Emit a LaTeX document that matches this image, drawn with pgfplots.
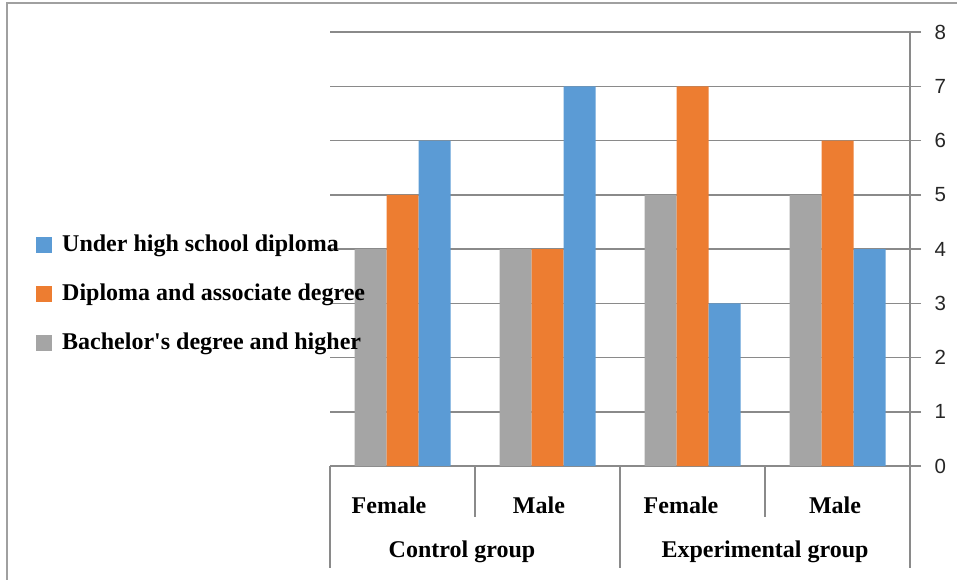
\documentclass[border=0pt]{standalone}
\usepackage{fontspec}
\setmainfont{Liberation Serif}
\newfontfamily\arialfont{Liberation Sans}
\usepackage{pgfplots}
\pgfplotsset{compat=1.18}

\definecolor{barGray}{HTML}{A5A5A5}
\definecolor{barOrange}{HTML}{ED7D31}
\definecolor{barBlue}{HTML}{5B9BD5}
\definecolor{gridGray}{HTML}{8A8A8A}
\definecolor{frameGray}{HTML}{A0A0A0}

\begin{document}
\begin{tikzpicture}[x=1pt,y=1pt]
% outer chart frame
\draw[frameGray, line width=2pt] (7,-5) -- (7,576) -- (962,576);
\begin{axis}[
  at={(330pt,113pt)}, anchor=south west,
  scale only axis, width=580pt, height=434pt,
  xmin=-0.5, xmax=3.5, ymin=0, ymax=8,
  ybar, bar width=32pt,
  axis x line*=bottom, axis y line*=right,
  axis line style={gridGray, line width=1.5pt},
  xtick=\empty,
  ytick={0,1,...,8},
  tick align=outside, major tick length=11pt,
  tick style={gridGray, line width=1.5pt},
  ymajorgrids, grid style={gridGray, line width=1.5pt},
  /pgf/number format/assume math mode=true,
  yticklabel style={font=\arialfont\fontsize{20.5}{20.5}\selectfont, text=black!85, anchor=west, xshift=10pt},
  clip=false,
  reverse legend,
  legend cell align=left,
  legend image code/.code={\fill[#1, draw=none] (0pt,-8pt) rectangle (16pt,8pt);},
  legend style={at={(-0.5069,0.396)}, anchor=west, draw=none, fill=none, inner sep=0pt,
    row sep=27pt,
    font=\bfseries\fontsize{24}{26}\selectfont,
    nodes={inner sep=0pt, text height=17pt, text depth=5pt},
    /tikz/every odd column/.append style={column sep=10pt}},
]
% Bachelor's degree and higher
\addplot[fill=barGray, draw=none, bar shift=-32pt] coordinates {(0,4) (1,4) (2,5) (3,5)};
% Diploma and associate degree
\addplot[fill=barOrange, draw=none, bar shift=0pt] coordinates {(0,5) (1,4) (2,7) (3,6)};
% Under high school diploma
\addplot[fill=barBlue, draw=none, bar shift=32pt] coordinates {(0,6) (1,7) (2,3) (3,4)};
\legend{Bachelor\textquotesingle s degree and higher, Diploma and associate degree, Under high school diploma}

% two-level category axis
\draw[gridGray, line width=1.5pt] (axis cs:-0.5,0) -- ++(0pt,-102pt);
\draw[gridGray, line width=1.5pt] (axis cs:0.5,0) -- ++(0pt,-51pt);
\draw[gridGray, line width=1.5pt] (axis cs:1.5,0) -- ++(0pt,-102pt);
\draw[gridGray, line width=1.5pt] (axis cs:2.5,0) -- ++(0pt,-51pt);
\draw[gridGray, line width=1.5pt] (axis cs:3.5,0) -- ++(0pt,-102pt);
\begin{scope}[every node/.style={font=\bfseries\fontsize{24}{26}\selectfont, anchor=base, inner sep=0pt}]
\node at ([yshift=-47pt]axis cs:-0.093,0) {Female};
\node at ([yshift=-47pt]axis cs:0.941,0) {Male};
\node at ([yshift=-47pt]axis cs:1.921,0) {Female};
\node at ([yshift=-47pt]axis cs:2.983,0) {Male};
\node at ([yshift=-91pt]axis cs:0.41,0) {Control group};
\node at ([yshift=-91pt]axis cs:2.5,0) {Experimental group};
\end{scope}
\end{axis}
\pgfresetboundingbox
\path (0,0) rectangle (957,579);
\end{tikzpicture}
\end{document}
